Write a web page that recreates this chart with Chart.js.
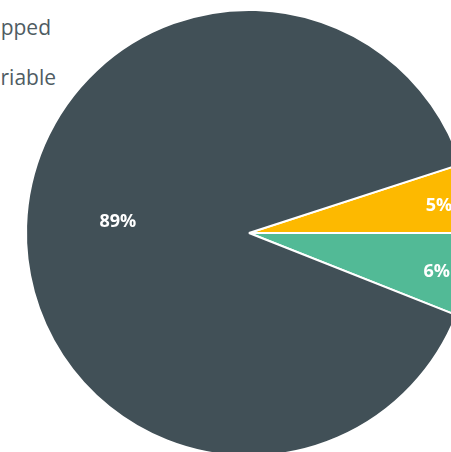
<!DOCTYPE html>
<html>
<head>
<meta charset="utf-8">
<script src="https://cdn.jsdelivr.net/npm/chart.js@4.4.0/dist/chart.umd.min.js"></script>
<style>
  html, body { margin: 0; padding: 0; background: #fff; width: 451px; height: 452px; overflow: hidden; position: relative; }
  #wrap { position: absolute; left: 0; top: 0; width: 498px; height: 466px; }
  .leg { position: absolute; width: 212px; text-align: right; font-family: "Open Sans", sans-serif; font-size: 21px; color: #4f5c63; line-height: 1; white-space: nowrap; }
</style>
</head>
<body>
<div class="leg" id="leg0" style="top:17px; left:-161px"></div>
<div class="leg" id="leg1" style="top:67px; left:-156px"></div>
<div id="wrap"><canvas id="c"></canvas></div>
<script>
const categories = ['Capped', 'Variable', 'Fixed'];
const shares = [5, 6, 89];
const pctLabels = ['5%', '6%', '89%'];
const legendLabels = ['Capped', 'Variable'];

document.getElementById('leg0').textContent = legendLabels[0];
document.getElementById('leg1').textContent = legendLabels[1];

const colors = ['#FDB900', '#52BA96', '#415057'];
const labelFrac = [0.86, 0.86, 0.59];
const labelShift = [1, 1, 3.2];

const labelPlugin = {
  id: 'pctLabels',
  afterDatasetsDraw(chart) {
    const ctx = chart.ctx;
    const meta = chart.getDatasetMeta(0);
    ctx.save();
    ctx.font = 'bold 18px "Open Sans", sans-serif';
    ctx.fillStyle = '#ffffff';
    ctx.textAlign = 'center';
    ctx.textBaseline = 'middle';
    meta.data.forEach((arc, i) => {
      const p = arc.getProps(['x', 'y', 'startAngle', 'endAngle', 'outerRadius'], true);
      const mid = (p.startAngle + p.endAngle) / 2 + labelShift[i] * Math.PI / 180;
      const r = p.outerRadius * labelFrac[i];
      ctx.fillText(pctLabels[i], p.x + Math.cos(mid) * r, p.y + Math.sin(mid) * r);
    });
    ctx.restore();
  }
};

new Chart(document.getElementById('c'), {
  type: 'pie',
  data: {
    labels: categories,
    datasets: [{
      data: shares,
      backgroundColor: colors,
      borderColor: '#ffffff',
      borderWidth: 2
    }]
  },
  options: {
    responsive: true,
    maintainAspectRatio: false,
    animation: false,
    rotation: 72,
    radius: 223,
    layout: { padding: 0 },
    plugins: {
      legend: { display: false },
      tooltip: { enabled: false }
    }
  },
  plugins: [labelPlugin]
});
</script>
</body>
</html>
